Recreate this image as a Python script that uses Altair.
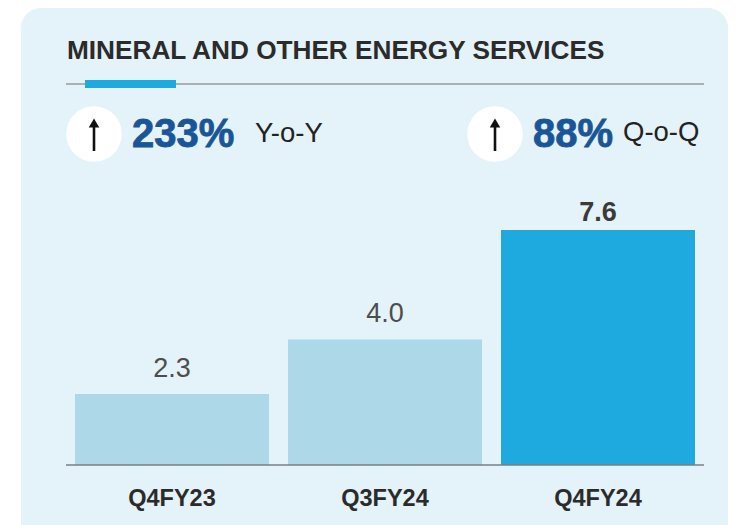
import altair as alt
import pandas as pd

# Chart values
categories = ["Q4FY23", "Q3FY24", "Q4FY24"]
bar_values = [2.3, 4.06, 7.6]
bar_labels = ["2.3", "4.0", "7.6"]
bar_colors = ["#add8e8", "#add8e8", "#1eaadf"]
label_weights = ["normal", "normal", "bold"]

title_text = "MINERAL AND OTHER ENERGY SERVICES"
yoy_value, yoy_name = "233%", "Y-o-Y"
qoq_value, qoq_name = "88%", "Q-o-Q"

FONT = "Liberation Sans"
W, H, PAD_B = 720, 457, 60


def X(px):
    return alt.value(px - 8)


def Y(px):
    return alt.value(px - 8)


def text(s, x, y, size, color, weight="normal", font=FONT, halo=0):
    return (
        alt.Chart(pd.DataFrame({"t": [s]}))
        .mark_text(font=font, fontSize=size, color=color, fontWeight=weight,
                   align="left", baseline="alphabetic", stroke=color, strokeWidth=halo)
        .encode(x=X(x), y=Y(y), text="t:N")
    )


def rect(x1, x2, y1, y2, color, radius=0):
    return (
        alt.Chart(pd.DataFrame({"a": [0]}))
        .mark_rect(color=color, cornerRadiusTopLeft=radius, cornerRadiusTopRight=radius)
        .encode(x=X(x1), x2=X(x2), y=Y(y1), y2=Y(y2))
    )


def hrule(x1, x2, y, color, width):
    return (
        alt.Chart(pd.DataFrame({"a": [0]}))
        .mark_rule(color=color, strokeWidth=width)
        .encode(x=X(x1), x2=X(x2), y=Y(y))
    )


def badge(cx):
    circle = (
        alt.Chart(pd.DataFrame({"a": [0]}))
        .mark_point(shape="circle", filled=True, color="#ffffff", opacity=1, size=3100)
        .encode(x=X(cx), y=Y(134))
    )
    stem = (
        alt.Chart(pd.DataFrame({"a": [0]}))
        .mark_rule(color="#111111", strokeWidth=2.6)
        .encode(x=X(cx), y=Y(124), y2=Y(151))
    )
    head = (
        alt.Chart(pd.DataFrame({"a": [0]}))
        .mark_point(shape="triangle-up", filled=True, color="#111111", opacity=1, size=110)
        .encode(x=X(cx), y=Y(123))
    )
    return circle + stem + head


data = pd.DataFrame({
    "category": categories,
    "value": bar_values,
    "label": bar_labels,
    "color": bar_colors,
    "weight": label_weights,
})

x_scale = alt.Scale(domain=categories, range=[67, 687], paddingInner=0.0892, paddingOuter=0)
y_scale = alt.Scale(domain=[0, 14.78], range=[H, 0], nice=False, zero=True)

bars = (
    alt.Chart(data)
    .mark_bar()
    .encode(
        x=alt.X("category:N", scale=x_scale, sort=categories, title=None,
                axis=alt.Axis(domain=False, ticks=False, grid=False, labelAngle=0,
                              labelFont=FONT, labelFontSize=23.5, labelFontWeight="bold",
                              labelColor="#2b2b2b", labelPadding=21, zindex=1)),
        y=alt.Y("value:Q", scale=y_scale, axis=None),
        color=alt.Color("color:N", scale=None),
    )
)

normal_labels = (
    alt.Chart(data)
    .transform_filter("datum.weight == 'normal'")
    .mark_text(font=FONT, fontSize=27, color="#4d4d4d", baseline="alphabetic", dy=-17)
    .encode(x=alt.X("category:N", scale=x_scale, sort=categories),
            y=alt.Y("value:Q", scale=y_scale), text="label:N")
)
bold_labels = (
    alt.Chart(data)
    .transform_filter("datum.weight == 'bold'")
    .mark_text(font=FONT, fontSize=27, fontWeight="bold", color="#3a3a3a", baseline="alphabetic", dy=-9)
    .encode(x=alt.X("category:N", scale=x_scale, sort=categories),
            y=alt.Y("value:Q", scale=y_scale), text="label:N")
)

chart = (
    alt.layer(
        rect(21, 728, 8, 525, "#e4f2f9", 20),
        text(title_text, 67, 59, 26.2, "#2b2b2b", "bold"),
        hrule(66, 704, 84, "#9a9a9a", 1.5),
        rect(85, 176, 80, 88, "#1eaadf"),
        badge(94),
        badge(495),
        text(yoy_value, 132, 147, 40, "#1a5598", "bold", halo=0.8),
        text(yoy_name, 255, 142, 27.5, "#222222"),
        text(qoq_value, 533, 147, 40, "#1a5598", "bold", halo=0.8),
        text(qoq_name, 623, 141, 27.5, "#222222"),
        bars,
        normal_labels,
        bold_labels,
        hrule(66, 704, 465, "#777f85", 1.5),
    )
    .properties(
        width=W, height=H,
        autosize=alt.AutoSizeParams(type="none"),
        padding={"left": 0, "top": 0, "right": 0, "bottom": PAD_B},
    )
    .configure_view(stroke=None)
)

chart.save("out.html", embed_options={"renderer": "svg", "actions": False})
